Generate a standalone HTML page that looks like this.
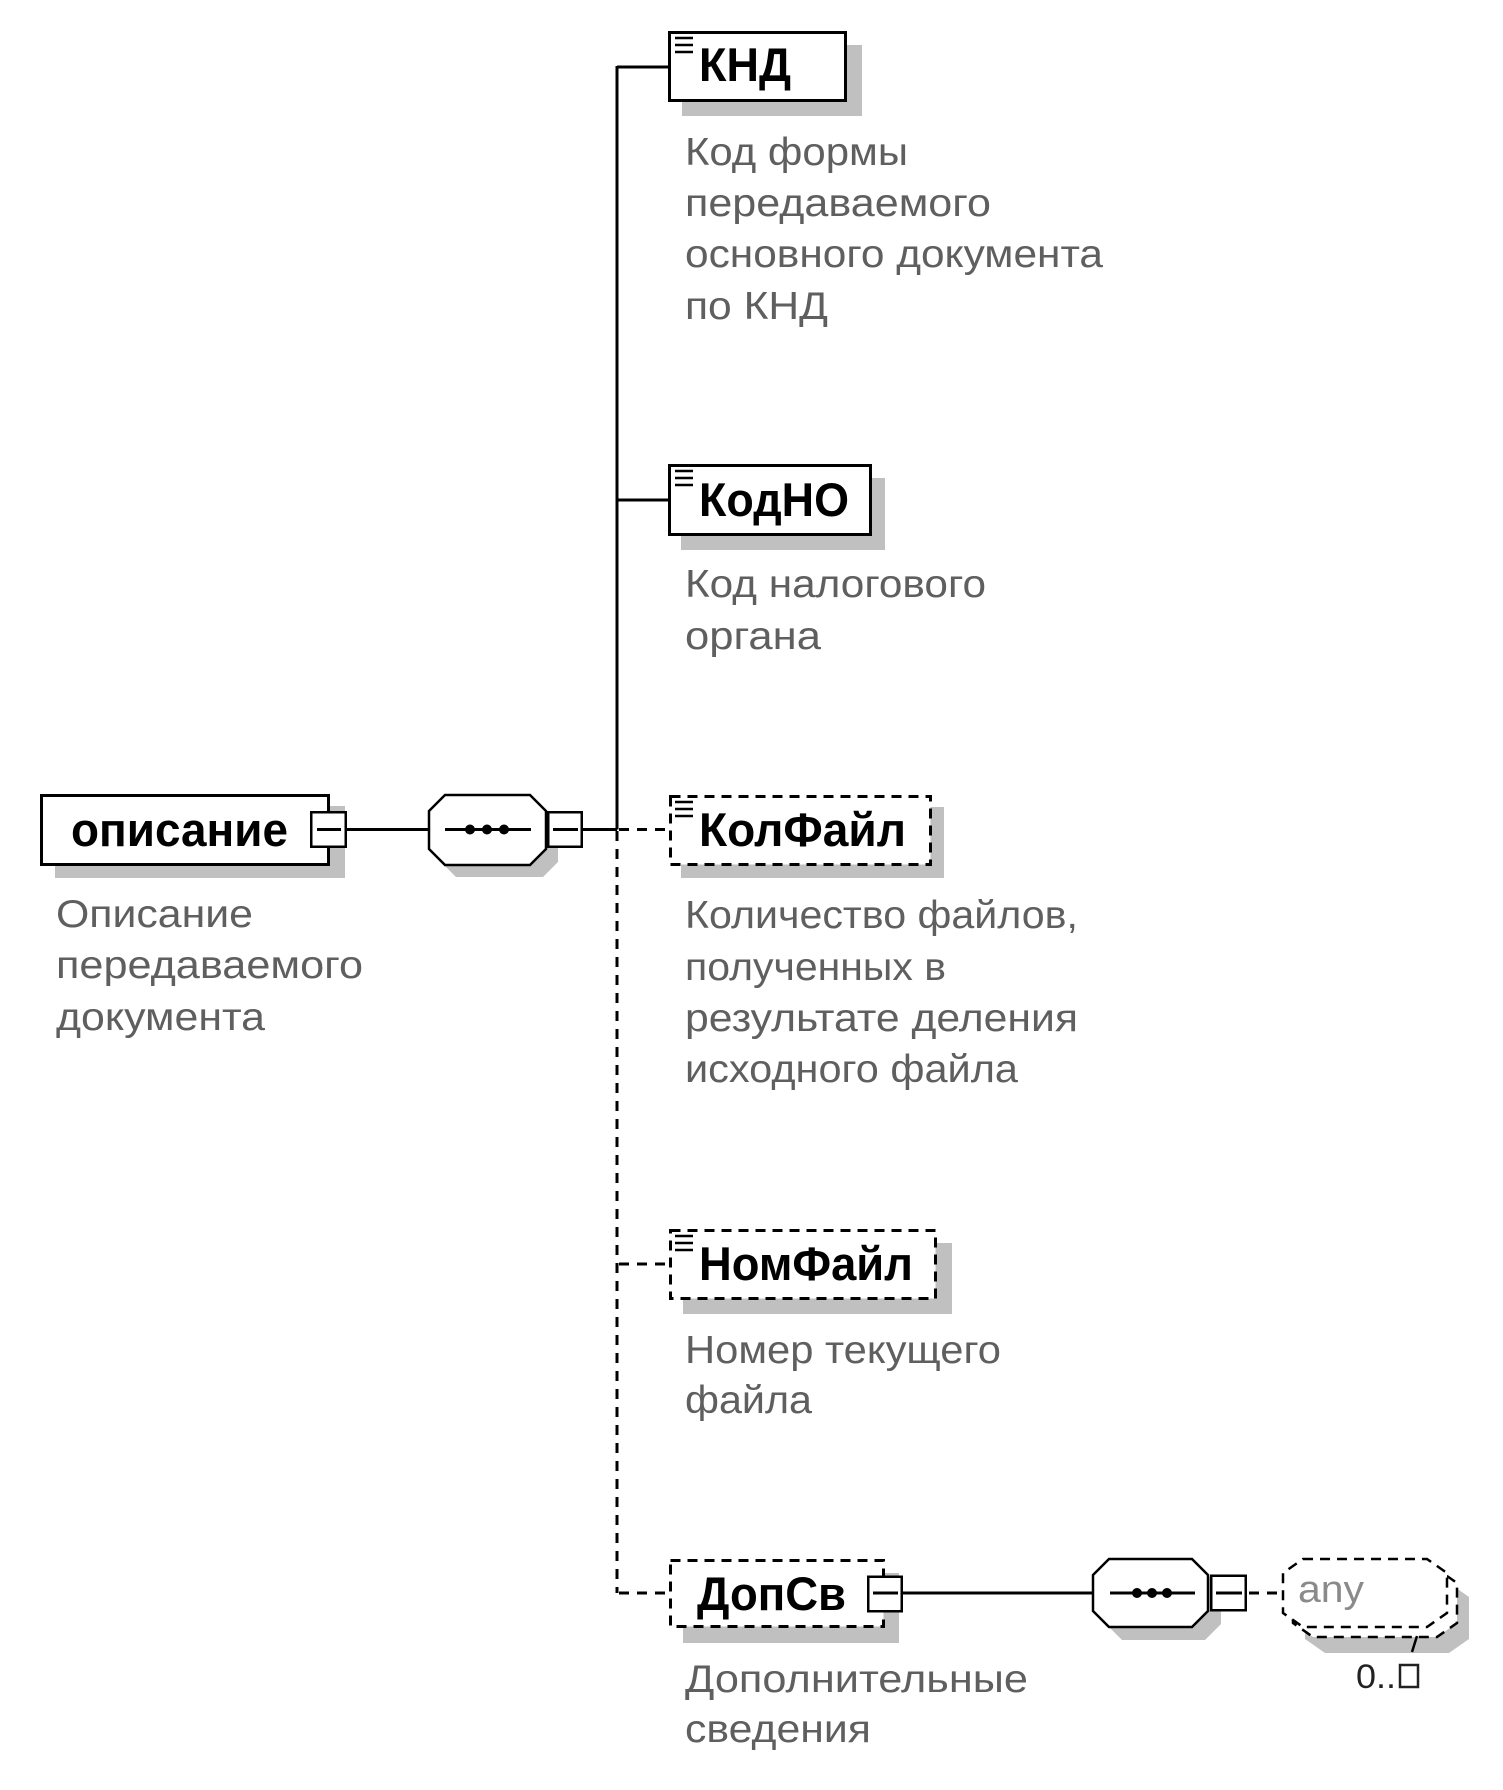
<!DOCTYPE html>
<html><head><meta charset="utf-8"><style>
html,body{margin:0;padding:0;background:#fff;}
svg{display:block;}
.t{font-family:"Liberation Sans",Arial,sans-serif;font-weight:bold;font-size:47px;fill:#000;}
.d{font-family:"Liberation Sans",Arial,sans-serif;font-size:39px;fill:#5f5f5f;}
</style></head><body>
<svg width="1503" height="1790" viewBox="0 0 1503 1790" xmlns="http://www.w3.org/2000/svg">
<rect width="1503" height="1790" fill="#fff"/>
<!-- shadows -->
<g fill="#c0c0c0">
<rect x="682" y="45" width="180" height="71"/>
<rect x="681" y="478" width="204" height="72"/>
<rect x="55" y="806" width="290" height="72"/>
<rect x="681" y="807" width="263" height="71"/>
<rect x="683" y="1243" width="269" height="71"/>
<rect x="683" y="1573" width="216" height="70"/>
<polygon points="456,807 543,807 558,822 558,862 543,877 456,877 441,862 441,822"/>
<polygon points="1122,1572 1205,1572 1221,1588 1221,1624 1205,1640 1122,1640 1106,1624 1106,1588"/>
<polygon points="1325,1583 1449,1583 1469,1597 1469,1639 1449,1653 1325,1653 1305,1639 1305,1597"/>
</g>
<!-- connectors -->
<g stroke="#000" stroke-width="3" fill="none">
<path d="M347 829.5 H429"/>
<path d="M583 829.5 H617"/>
<path d="M617 66 V829.5"/>
<path d="M617 67 H669"/>
<path d="M617 500 H669"/>
<path d="M903 1593 H1093"/>
</g>
<g stroke="#000" stroke-width="3" fill="none" stroke-dasharray="10 8">
<path d="M619 829.5 H669"/>
<path d="M617 831 V1593"/>
<path d="M619 1264 H669"/>
<path d="M619 1593 H669"/>
<path d="M1249 1593 H1283"/>
</g>
<!-- octagon 1 -->
<polygon points="445,795 530,795 546,811 546,849 530,865 445,865 429,849 429,811" fill="#fff" stroke="#000" stroke-width="2.5"/>
<path d="M445 829.5 H531" stroke="#000" stroke-width="3"/>
<circle cx="470" cy="829.5" r="5"/><circle cx="487" cy="829.5" r="5"/><circle cx="504" cy="829.5" r="5"/>
<!-- octagon 2 -->
<polygon points="1109,1559 1192,1559 1208,1575 1208,1611 1192,1627 1109,1627 1093,1611 1093,1575" fill="#fff" stroke="#000" stroke-width="2.5"/>
<path d="M1110 1593 H1195" stroke="#000" stroke-width="3"/>
<circle cx="1137" cy="1593" r="5"/><circle cx="1152" cy="1593" r="5"/><circle cx="1167" cy="1593" r="5"/>
<!-- any shapes -->
<polygon points="1313,1569 1437,1569 1457,1583 1457,1623 1437,1637 1313,1637 1293,1623 1293,1583" fill="#fff" stroke="#000" stroke-width="2.5" stroke-dasharray="10 7"/>
<polygon points="1303,1559 1427,1559 1447,1573 1447,1613 1427,1627 1303,1627 1283,1613 1283,1573" fill="#fff" stroke="#000" stroke-width="2.5" stroke-dasharray="10 7"/>
<path d="M1417 1636 L1412 1652" stroke="#000" stroke-width="2.5"/>
<!-- element boxes -->
<g fill="#fff" stroke="#000" stroke-width="3">
<rect x="669.5" y="32.5" width="176" height="68"/>
<rect x="669.5" y="465.5" width="201" height="69"/>
<rect x="41.5" y="795.5" width="287" height="69"/>
</g>
<g fill="#fff" stroke="#000" stroke-width="3" stroke-dasharray="10 7">
<rect x="670.5" y="796.5" width="260" height="68"/>
<rect x="670.5" y="1230.5" width="265" height="68"/>
<rect x="670.5" y="1560.5" width="213" height="66"/>
</g>
<!-- minus boxes -->
<g fill="#fff" stroke="#000" stroke-width="2.5">
<rect x="311.25" y="812.25" width="34.5" height="34.5"/>
<rect x="548.25" y="812.25" width="33.5" height="34.5"/>
<rect x="868.25" y="1576.75" width="33.5" height="34.5"/>
<rect x="1211.25" y="1575.75" width="34.5" height="34.5"/>
</g>
<g stroke="#000" stroke-width="3">
<path d="M317 829.5 H341"/>
<path d="M553 829.5 H578"/>
<path d="M873 1593 H898"/>
<path d="M1216 1593 H1242"/>
</g>
<!-- ≡ icons -->
<g stroke="#000" stroke-width="2.5">
<path d="M675 38 H693 M675 45 H693 M675 52 H693"/>
<path d="M675 471 H693 M675 478 H693 M675 485 H693"/>
<path d="M675 802 H693 M675 809 H693 M675 816 H693"/>
<path d="M675 1236 H693 M675 1243 H693 M675 1250 H693"/>
</g>
<!-- titles -->
<text class="t" x="699" y="81" textLength="92" lengthAdjust="spacingAndGlyphs">КНД</text>
<text class="t" x="699" y="516" textLength="150" lengthAdjust="spacingAndGlyphs">КодНО</text>
<text class="t" x="71" y="846" textLength="217" lengthAdjust="spacingAndGlyphs">описание</text>
<text class="t" x="699" y="846" textLength="207" lengthAdjust="spacingAndGlyphs">КолФайл</text>
<text class="t" x="699" y="1280" textLength="214" lengthAdjust="spacingAndGlyphs">НомФайл</text>
<text class="t" x="697" y="1610" textLength="149" lengthAdjust="spacingAndGlyphs">ДопСв</text>
<!-- descriptions -->
<text class="d" x="685" y="165" textLength="223" lengthAdjust="spacingAndGlyphs">Код формы</text>
<text class="d" x="685" y="216" textLength="306" lengthAdjust="spacingAndGlyphs">передаваемого</text>
<text class="d" x="685" y="267" textLength="418" lengthAdjust="spacingAndGlyphs">основного документа</text>
<text class="d" x="685" y="319" textLength="143" lengthAdjust="spacingAndGlyphs">по КНД</text>
<text class="d" x="685" y="597" textLength="301" lengthAdjust="spacingAndGlyphs">Код налогового</text>
<text class="d" x="685" y="649" textLength="136" lengthAdjust="spacingAndGlyphs">органа</text>
<text class="d" x="56" y="927" textLength="197" lengthAdjust="spacingAndGlyphs">Описание</text>
<text class="d" x="56" y="978" textLength="307" lengthAdjust="spacingAndGlyphs">передаваемого</text>
<text class="d" x="56" y="1030" textLength="209" lengthAdjust="spacingAndGlyphs">документа</text>
<text class="d" x="685" y="928" textLength="393" lengthAdjust="spacingAndGlyphs">Количество файлов,</text>
<text class="d" x="685" y="980" textLength="261" lengthAdjust="spacingAndGlyphs">полученных в</text>
<text class="d" x="685" y="1031" textLength="393" lengthAdjust="spacingAndGlyphs">результате деления</text>
<text class="d" x="685" y="1082" textLength="333" lengthAdjust="spacingAndGlyphs">исходного файла</text>
<text class="d" x="685" y="1363" textLength="316" lengthAdjust="spacingAndGlyphs">Номер текущего</text>
<text class="d" x="685" y="1413" textLength="127" lengthAdjust="spacingAndGlyphs">файла</text>
<text class="d" x="685" y="1692" textLength="343" lengthAdjust="spacingAndGlyphs">Дополнительные</text>
<text class="d" x="685" y="1742" textLength="186" lengthAdjust="spacingAndGlyphs">сведения</text>
<!-- any / occurrence -->
<text x="1298" y="1602" font-family="Liberation Sans, Arial, sans-serif" font-size="38" fill="#8a8a8a" textLength="66" lengthAdjust="spacingAndGlyphs">any</text>
<text x="1356" y="1688" font-family="Liberation Sans, Arial, sans-serif" font-size="34" fill="#222" textLength="40" lengthAdjust="spacingAndGlyphs">0..</text>
<rect x="1400" y="1665" width="18" height="22" fill="none" stroke="#222" stroke-width="2.5"/>
</svg>
</body></html>
